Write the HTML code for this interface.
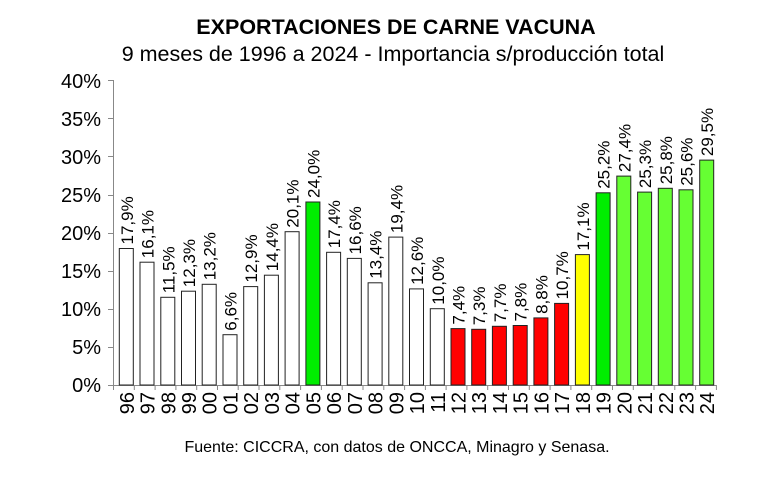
<!DOCTYPE html>
<html><head><style>body{margin:0;background:#fff}svg{display:block;font-family:"Liberation Sans",Arial,sans-serif}</style></head><body>
<svg width="784" height="482" xmlns="http://www.w3.org/2000/svg">
<text x="396" y="34" text-anchor="middle" font-size="21.5" font-weight="bold">EXPORTACIONES DE CARNE VACUNA</text>
<text x="393" y="61" text-anchor="middle" font-size="21.5">9 meses de 1996 a 2024 - Importancia s/producción total</text>
<text x="397" y="452" text-anchor="middle" font-size="16">Fuente: CICCRA, con datos de ONCCA, Minagro y Senasa.</text>
<g font-size="20" text-anchor="end">
<text x="101" y="392">0%</text><text x="101" y="316">10%</text><text x="101" y="240">20%</text><text x="101" y="164">30%</text><text x="101" y="88">40%</text>
<text x="101" y="354">5%</text><text x="101" y="278">15%</text><text x="101" y="202">25%</text><text x="101" y="126">35%</text>
</g>
<g stroke="#888" stroke-width="1">
<line x1="113.5" y1="80" x2="113.5" y2="390"/>
<line x1="108" y1="385.5" x2="716" y2="385.5"/>
<line x1="108" y1="347.5" x2="113" y2="347.5"/><line x1="108" y1="309.5" x2="113" y2="309.5"/><line x1="108" y1="271.5" x2="113" y2="271.5"/><line x1="108" y1="233.5" x2="113" y2="233.5"/><line x1="108" y1="195.5" x2="113" y2="195.5"/><line x1="108" y1="156.5" x2="113" y2="156.5"/><line x1="108" y1="118.5" x2="113" y2="118.5"/><line x1="108" y1="80.5" x2="113" y2="80.5"/>
<line x1="134.3" y1="385" x2="134.3" y2="390"/><line x1="155.1" y1="385" x2="155.1" y2="390"/><line x1="175.9" y1="385" x2="175.9" y2="390"/><line x1="196.7" y1="385" x2="196.7" y2="390"/><line x1="217.5" y1="385" x2="217.5" y2="390"/><line x1="238.2" y1="385" x2="238.2" y2="390"/><line x1="259.0" y1="385" x2="259.0" y2="390"/><line x1="279.8" y1="385" x2="279.8" y2="390"/><line x1="300.6" y1="385" x2="300.6" y2="390"/><line x1="321.4" y1="385" x2="321.4" y2="390"/><line x1="342.2" y1="385" x2="342.2" y2="390"/><line x1="363.0" y1="385" x2="363.0" y2="390"/><line x1="383.8" y1="385" x2="383.8" y2="390"/><line x1="404.6" y1="385" x2="404.6" y2="390"/><line x1="425.4" y1="385" x2="425.4" y2="390"/><line x1="446.1" y1="385" x2="446.1" y2="390"/><line x1="466.9" y1="385" x2="466.9" y2="390"/><line x1="487.7" y1="385" x2="487.7" y2="390"/><line x1="508.5" y1="385" x2="508.5" y2="390"/><line x1="529.3" y1="385" x2="529.3" y2="390"/><line x1="550.1" y1="385" x2="550.1" y2="390"/><line x1="570.9" y1="385" x2="570.9" y2="390"/><line x1="591.7" y1="385" x2="591.7" y2="390"/><line x1="612.5" y1="385" x2="612.5" y2="390"/><line x1="633.3" y1="385" x2="633.3" y2="390"/><line x1="654.0" y1="385" x2="654.0" y2="390"/><line x1="674.8" y1="385" x2="674.8" y2="390"/><line x1="695.6" y1="385" x2="695.6" y2="390"/><line x1="716.4" y1="385" x2="716.4" y2="390"/>
</g>
<g stroke="#222" stroke-width="1">
<rect x="119.3" y="248.5" width="14" height="136.5" fill="#fff"/>
<rect x="140.0" y="262.2" width="14" height="122.8" fill="#fff"/>
<rect x="160.8" y="297.3" width="14" height="87.7" fill="#fff"/>
<rect x="181.5" y="291.2" width="14" height="93.8" fill="#fff"/>
<rect x="202.2" y="284.3" width="14" height="100.7" fill="#fff"/>
<rect x="223.0" y="334.7" width="14" height="50.3" fill="#fff"/>
<rect x="243.7" y="286.6" width="14" height="98.4" fill="#fff"/>
<rect x="264.4" y="275.2" width="14" height="109.8" fill="#fff"/>
<rect x="285.1" y="231.7" width="14" height="153.3" fill="#fff"/>
<rect x="305.9" y="202.0" width="14" height="183.0" fill="#00ee00"/>
<rect x="326.6" y="252.3" width="14" height="132.7" fill="#fff"/>
<rect x="347.3" y="258.4" width="14" height="126.6" fill="#fff"/>
<rect x="368.1" y="282.8" width="14" height="102.2" fill="#fff"/>
<rect x="388.8" y="237.1" width="14" height="147.9" fill="#fff"/>
<rect x="409.5" y="288.9" width="14" height="96.1" fill="#fff"/>
<rect x="430.3" y="308.7" width="14" height="76.3" fill="#fff"/>
<rect x="451.0" y="328.6" width="14" height="56.4" fill="#ff0000"/>
<rect x="471.7" y="329.3" width="14" height="55.7" fill="#ff0000"/>
<rect x="492.4" y="326.3" width="14" height="58.7" fill="#ff0000"/>
<rect x="513.2" y="325.5" width="14" height="59.5" fill="#ff0000"/>
<rect x="533.9" y="317.9" width="14" height="67.1" fill="#ff0000"/>
<rect x="554.6" y="303.4" width="14" height="81.6" fill="#ff0000"/>
<rect x="575.4" y="254.6" width="14" height="130.4" fill="#ffff00"/>
<rect x="596.1" y="192.8" width="14" height="192.2" fill="#00ee00"/>
<rect x="616.8" y="176.1" width="14" height="208.9" fill="#66ff33"/>
<rect x="637.6" y="192.1" width="14" height="192.9" fill="#66ff33"/>
<rect x="658.3" y="188.3" width="14" height="196.7" fill="#66ff33"/>
<rect x="679.0" y="189.8" width="14" height="195.2" fill="#66ff33"/>
<rect x="699.7" y="160.1" width="14" height="224.9" fill="#66ff33"/>
</g>
<g font-size="17">
<text transform="translate(132.8,244.5) rotate(-90)">17,9%</text>
<text transform="translate(153.5,258.2) rotate(-90)">16,1%</text>
<text transform="translate(174.3,293.3) rotate(-90)">11,5%</text>
<text transform="translate(195.0,287.2) rotate(-90)">12,3%</text>
<text transform="translate(215.7,280.3) rotate(-90)">13,2%</text>
<text transform="translate(236.5,330.7) rotate(-90)">6,6%</text>
<text transform="translate(257.2,282.6) rotate(-90)">12,9%</text>
<text transform="translate(277.9,271.2) rotate(-90)">14,4%</text>
<text transform="translate(298.6,227.7) rotate(-90)">20,1%</text>
<text transform="translate(319.4,198.0) rotate(-90)">24,0%</text>
<text transform="translate(340.1,248.3) rotate(-90)">17,4%</text>
<text transform="translate(360.8,254.4) rotate(-90)">16,6%</text>
<text transform="translate(381.6,278.8) rotate(-90)">13,4%</text>
<text transform="translate(402.3,233.1) rotate(-90)">19,4%</text>
<text transform="translate(423.0,284.9) rotate(-90)">12,6%</text>
<text transform="translate(443.8,304.7) rotate(-90)">10,0%</text>
<text transform="translate(464.5,324.6) rotate(-90)">7,4%</text>
<text transform="translate(485.2,325.3) rotate(-90)">7,3%</text>
<text transform="translate(505.9,322.3) rotate(-90)">7,7%</text>
<text transform="translate(526.7,321.5) rotate(-90)">7,8%</text>
<text transform="translate(547.4,313.9) rotate(-90)">8,8%</text>
<text transform="translate(568.1,299.4) rotate(-90)">10,7%</text>
<text transform="translate(588.9,250.6) rotate(-90)">17,1%</text>
<text transform="translate(609.6,188.8) rotate(-90)">25,2%</text>
<text transform="translate(630.3,172.1) rotate(-90)">27,4%</text>
<text transform="translate(651.1,188.1) rotate(-90)">25,3%</text>
<text transform="translate(671.8,184.3) rotate(-90)">25,8%</text>
<text transform="translate(692.5,185.8) rotate(-90)">25,6%</text>
<text transform="translate(713.2,156.1) rotate(-90)">29,5%</text>
</g>
<g font-size="20" text-anchor="end">
<text transform="translate(133.8,392) rotate(-90)">96</text>
<text transform="translate(154.5,392) rotate(-90)">97</text>
<text transform="translate(175.3,392) rotate(-90)">98</text>
<text transform="translate(196.0,392) rotate(-90)">99</text>
<text transform="translate(216.7,392) rotate(-90)">00</text>
<text transform="translate(237.5,392) rotate(-90)">01</text>
<text transform="translate(258.2,392) rotate(-90)">02</text>
<text transform="translate(278.9,392) rotate(-90)">03</text>
<text transform="translate(299.6,392) rotate(-90)">04</text>
<text transform="translate(320.4,392) rotate(-90)">05</text>
<text transform="translate(341.1,392) rotate(-90)">06</text>
<text transform="translate(361.8,392) rotate(-90)">07</text>
<text transform="translate(382.6,392) rotate(-90)">08</text>
<text transform="translate(403.3,392) rotate(-90)">09</text>
<text transform="translate(424.0,392) rotate(-90)">10</text>
<text transform="translate(444.8,392) rotate(-90)">11</text>
<text transform="translate(465.5,392) rotate(-90)">12</text>
<text transform="translate(486.2,392) rotate(-90)">13</text>
<text transform="translate(506.9,392) rotate(-90)">14</text>
<text transform="translate(527.7,392) rotate(-90)">15</text>
<text transform="translate(548.4,392) rotate(-90)">16</text>
<text transform="translate(569.1,392) rotate(-90)">17</text>
<text transform="translate(589.9,392) rotate(-90)">18</text>
<text transform="translate(610.6,392) rotate(-90)">19</text>
<text transform="translate(631.3,392) rotate(-90)">20</text>
<text transform="translate(652.1,392) rotate(-90)">21</text>
<text transform="translate(672.8,392) rotate(-90)">22</text>
<text transform="translate(693.5,392) rotate(-90)">23</text>
<text transform="translate(714.2,392) rotate(-90)">24</text>
</g>
</svg>
</body></html>
